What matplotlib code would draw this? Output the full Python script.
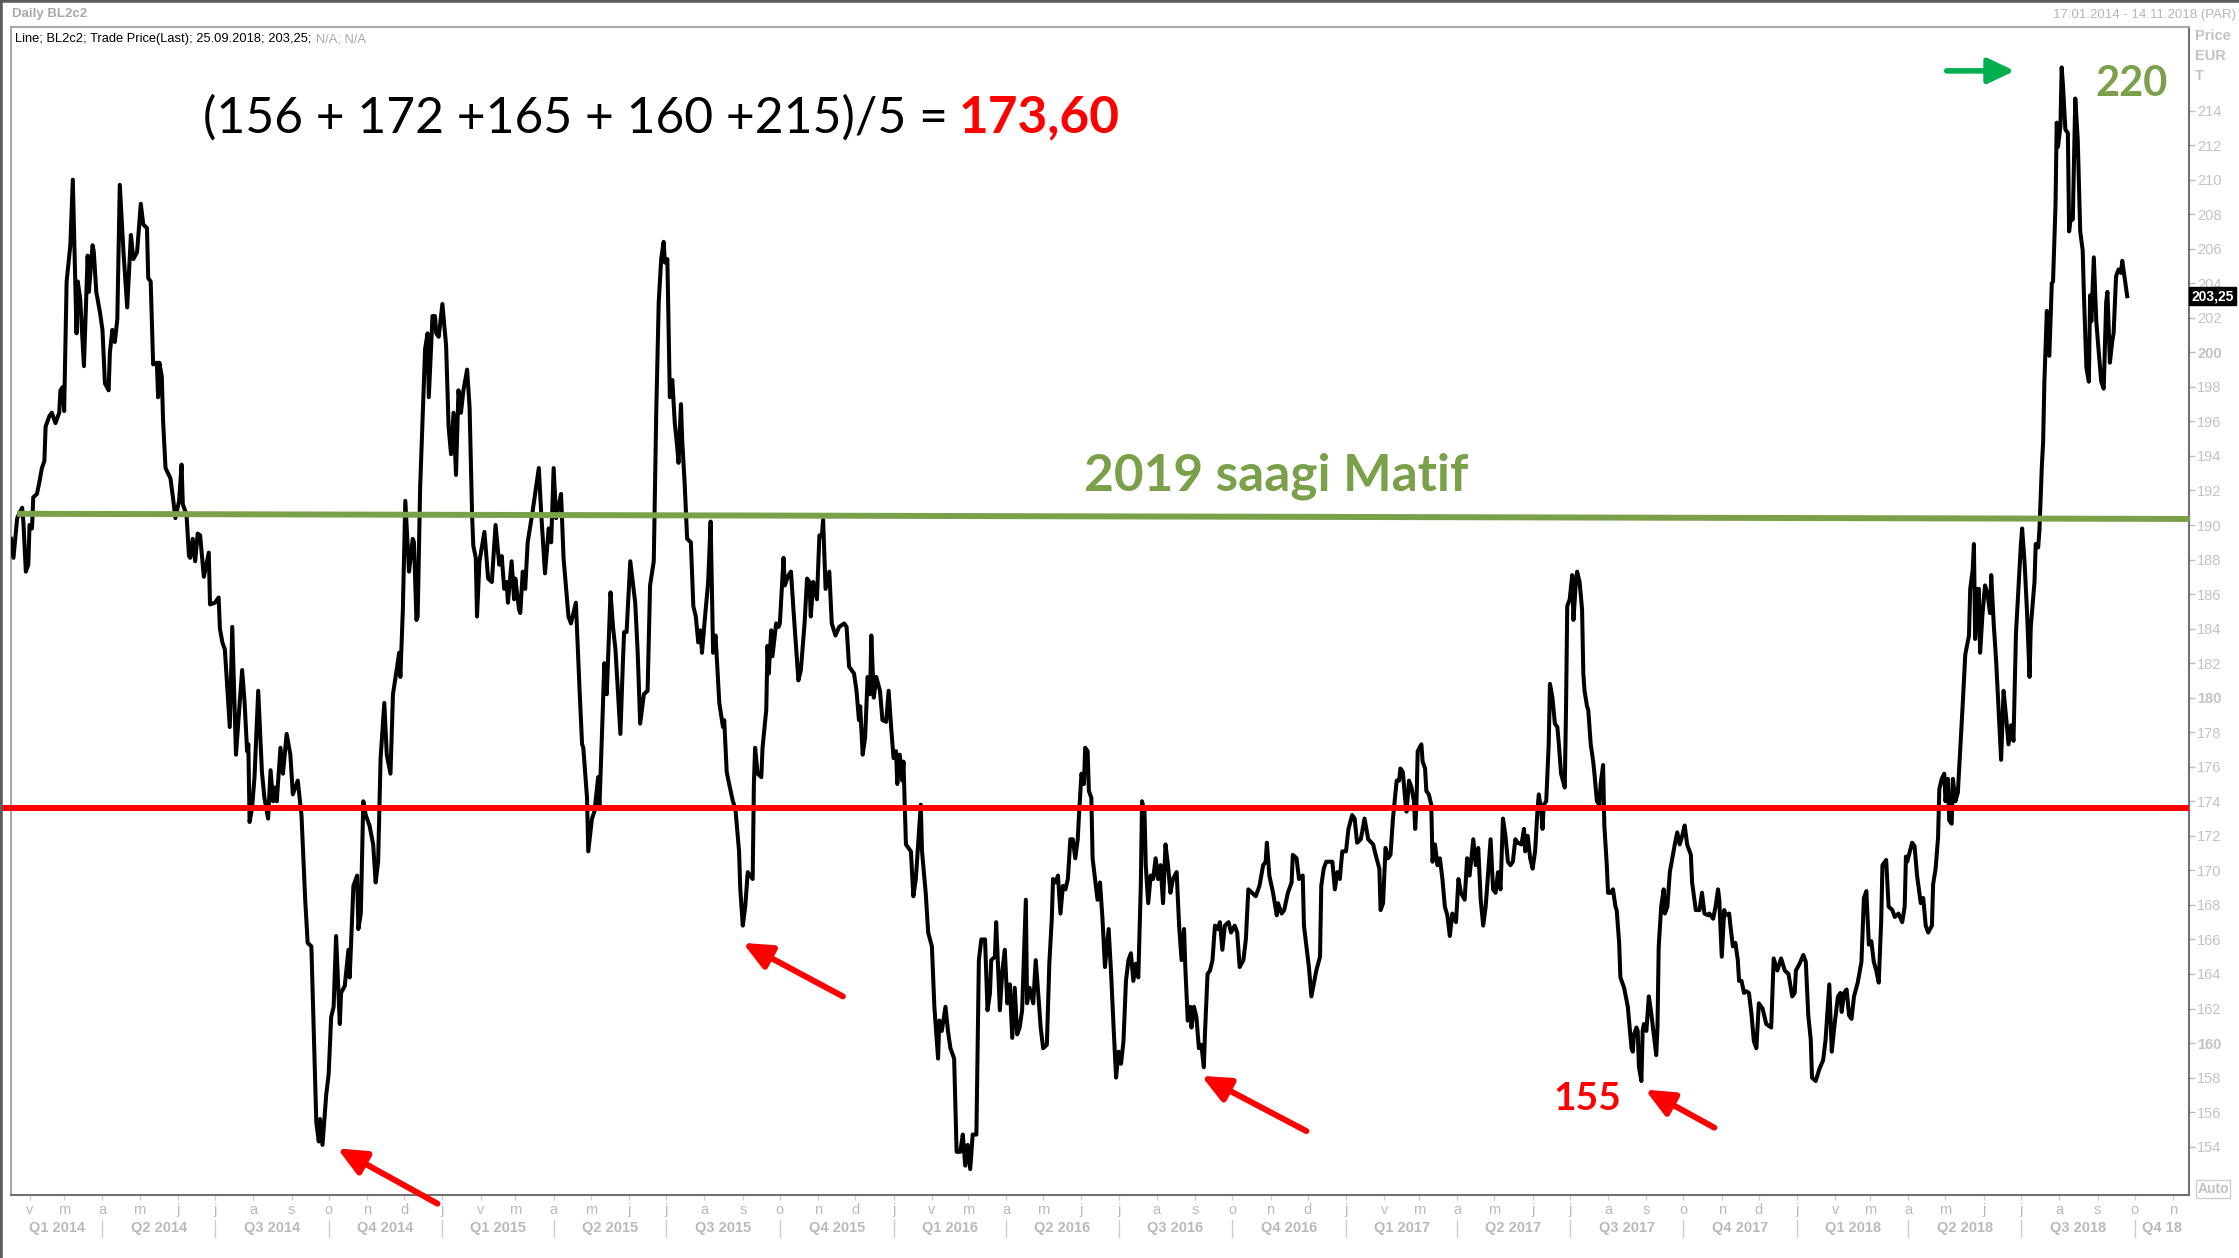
import numpy as np
import pandas as pd
import matplotlib
matplotlib.use("Agg")
import matplotlib.pyplot as plt
import matplotlib.dates as mdates
import matplotlib.transforms as mtransforms
from matplotlib.lines import Line2D
from matplotlib.offsetbox import TextArea, HPacker, AnnotationBbox

plt.rcParams['font.family'] = ['Liberation Sans', 'DejaVu Sans']

start = np.datetime64('2014-01-17')
end = np.datetime64('2018-11-14')

# days after 17.01.2014 and the traded price (EUR/t)
day = [0, 2, 5, 9, 10, 12, 14, 15, 17, 18,
       21, 23, 25, 27, 28, 31, 33, 36, 39, 40,
       42, 43, 45, 48, 50, 53, 54, 56, 59, 62,
       63, 66, 67, 69, 72, 74, 76, 79, 80, 82,
       84, 86, 88, 91, 94, 97, 99, 102, 105, 107,
       110, 111, 113, 115, 118, 119, 120, 122, 123, 125,
       129, 131, 133, 136, 138, 139, 142, 144, 145, 147,
       149, 151, 153, 156, 160, 161, 165, 168, 169, 171,
       173, 177, 179, 182, 185, 187, 189, 191, 192, 193,
       195, 197, 200, 203, 205, 208, 210, 212, 214, 215,
       218, 220, 223, 226, 228, 232, 235, 238, 240, 243,
       247, 249, 250, 252, 255, 257, 259, 261, 263, 266,
       267, 270, 273, 274, 277, 280, 281, 283, 285, 287,
       290, 293, 295, 297, 299, 302, 304, 307, 309, 312,
       314, 315, 317, 319, 322, 325, 326, 328, 329, 331,
       335, 337, 338, 341, 343, 344, 346,
       349, 352, 354, 356, 358, 360, 362, 364, 366, 369,
       371, 373, 374, 376, 377, 379, 383, 386, 389, 392,
       395, 397, 399, 401, 402, 405, 407, 408, 411, 412,
       414, 416, 418, 422, 427, 429, 432, 435, 437, 439,
       441, 445, 447, 451, 453, 457, 460, 462, 463, 466,
       467, 470, 472, 475, 476, 478, 480, 482, 485, 487,
       489, 491, 493, 495, 496, 498, 501, 505, 507, 509,
       512, 515, 517, 520, 522, 524, 526, 528, 529, 531,
       533, 535, 537, 539, 540, 542, 543, 545, 547, 550,
       552, 554, 556, 558, 559, 561, 564, 566, 568, 570,
       573, 576, 577, 579, 581, 584, 586, 589, 590, 592,
       594, 596, 598, 600, 601, 602, 604, 607, 608, 611,
       612, 613, 615, 616, 619, 621, 622, 625, 626, 629,
       631, 633, 637, 639, 642, 644, 646, 647, 649, 652,
       654, 656, 657, 659, 662, 664, 667, 670, 674, 676,
       678, 682, 684, 686, 687, 689, 691, 693, 695, 696,
       698, 700,
       703, 705, 708, 710, 712, 714, 716, 717, 719, 721,
       722, 724, 728, 730, 732, 736, 737, 740, 742, 745,
       747, 750, 751, 753, 756, 758, 760, 763, 765, 768,
       770, 772, 774, 776, 778, 781, 783, 785, 788, 790,
       792, 793, 796, 797, 800, 802, 804, 806, 808, 810,
       812, 814, 816, 818, 821, 822, 824, 827, 829, 831,
       833, 835, 838, 840, 842, 843, 845, 847, 849, 851,
       853, 855, 857, 859, 861, 863, 864, 866, 868, 869,
       871, 872, 874, 875, 877, 879, 881, 883, 885, 888,
       890, 892, 894, 896, 898, 900, 902, 904, 906, 908,
       910, 912, 914, 915, 917, 918, 920, 922, 924, 926,
       928, 930, 932, 934, 936, 938, 940, 943, 945, 947,
       949, 950, 952, 954, 955, 957, 959, 961, 963, 965,
       966, 968, 970, 972, 974, 976, 978, 980, 982, 985,
       987, 990, 992, 994, 997, 999, 1001, 1004, 1007, 1010,
       1013, 1015, 1016, 1018, 1021, 1024, 1025, 1028, 1030, 1033,
       1036, 1037, 1040, 1042, 1045, 1046, 1048, 1050, 1052, 1055,
       1056,
       1059, 1060, 1062, 1064, 1069, 1071, 1073, 1075, 1077, 1080,
       1082, 1085, 1087, 1089, 1092, 1095, 1098, 1102, 1104, 1107,
       1108, 1110, 1112, 1114, 1116, 1118, 1121, 1123, 1124, 1126,
       1128, 1129, 1131, 1133, 1135, 1136, 1137, 1138, 1141, 1142,
       1144, 1145, 1147, 1149, 1150, 1152, 1154, 1156, 1158, 1160,
       1162, 1164, 1166, 1169, 1171, 1173, 1176, 1178, 1180, 1183,
       1185, 1187, 1189, 1191, 1193, 1197, 1199, 1201, 1203, 1205,
       1207, 1209, 1211, 1213, 1215, 1217, 1219, 1222, 1224, 1225,
       1227, 1229, 1231, 1233, 1235, 1236, 1238, 1239, 1240, 1242,
       1244, 1245, 1247, 1249, 1251, 1252, 1254, 1257, 1258, 1259,
       1261, 1263, 1264, 1266, 1267, 1269, 1271, 1272, 1273, 1275,
       1276, 1278, 1280, 1281, 1283, 1285, 1286, 1288, 1289, 1291,
       1292, 1294, 1296, 1298, 1299, 1301, 1302, 1305, 1308, 1309,
       1311, 1312, 1313, 1315, 1316, 1317, 1319, 1320, 1321, 1323,
       1324, 1325, 1327, 1329, 1331, 1332, 1333, 1335, 1337, 1338,
       1340, 1342, 1344, 1346, 1348, 1350, 1352, 1354, 1356, 1359,
       1360, 1363, 1366, 1368, 1370, 1373, 1374, 1377, 1379, 1381,
       1382, 1384, 1386, 1387, 1390, 1391, 1393, 1395, 1397, 1398,
       1400, 1402, 1404, 1406, 1408, 1410, 1412, 1414,
       1417, 1420, 1424, 1426, 1429, 1432, 1435, 1438, 1441, 1443,
       1444, 1447, 1450, 1452, 1454, 1456, 1457, 1460, 1463, 1466,
       1468, 1471, 1473, 1475, 1478, 1480, 1481, 1483, 1485, 1487,
       1489, 1491, 1494, 1497, 1499, 1501, 1503, 1505, 1507, 1509,
       1511, 1513, 1514, 1517, 1519, 1522, 1524, 1527, 1530, 1532,
       1533, 1534, 1538, 1540, 1542, 1545, 1547, 1549, 1551, 1554,
       1555, 1557, 1559, 1560, 1562, 1564, 1565, 1567, 1568, 1570,
       1571, 1573, 1575, 1577, 1579, 1581, 1584, 1585, 1587, 1588,
       1589, 1591, 1592, 1593, 1595, 1597, 1599, 1601, 1602, 1604,
       1606, 1608, 1610, 1612, 1614, 1616, 1618, 1620, 1622, 1624,
       1626, 1627, 1629, 1631, 1633, 1634, 1637, 1638, 1640, 1641,
       1643, 1644, 1645, 1647, 1648, 1649, 1651, 1652, 1654, 1655,
       1656, 1658, 1659, 1660, 1662, 1664, 1665, 1666, 1668, 1670,
       1672, 1674, 1676, 1677, 1679, 1681, 1682, 1683, 1685, 1687,
       1689, 1691, 1693, 1695, 1696, 1698, 1700, 1701, 1703, 1705,
       1707, 1708, 1712]

price = [189.2, 188.1, 190.4, 191.0, 190.2, 187.3, 187.7, 190.0, 189.8, 191.6,
         191.8, 192.5, 193.3, 193.7, 195.7, 196.3, 196.5, 195.9, 196.5, 197.8,
         198.0, 196.6, 204.1, 206.2, 210.0, 201.1, 204.1, 203.1, 199.2, 205.6,
         203.5, 206.2, 205.8, 203.5, 202.3, 201.3, 198.2, 197.8, 200.0, 201.3,
         200.6, 201.9, 209.7, 205.8, 202.6, 206.8, 205.4, 205.8, 208.6, 207.4,
         207.2, 204.3, 204.1, 199.3, 199.4, 197.4, 199.4, 198.6, 196.1, 193.3,
         192.7, 191.6, 190.4, 191.4, 193.5, 191.2, 190.6, 188.2, 188.1, 189.2,
         187.9, 189.5, 189.4, 187.0, 188.4, 185.4, 185.5, 185.8, 184.0, 183.2,
         182.8, 178.3, 184.1, 176.7, 179.7, 181.6, 179.7, 176.9, 177.3, 172.8,
         173.6, 175.4, 180.4, 175.7, 174.2, 173.0, 175.8, 174.0, 174.8, 174.0,
         177.1, 175.6, 177.9, 176.7, 174.4, 175.2, 173.2, 168.3, 165.8, 165.6,
         155.4, 154.3, 155.6, 154.1, 157.0, 158.2, 161.5, 162.1, 166.2, 161.1,
         162.9, 163.3, 165.4, 163.8, 169.1, 169.7, 166.6, 167.5, 174.0, 173.2,
         172.6, 171.5, 169.3, 170.5, 176.5, 179.7, 176.7, 175.6, 180.2, 181.6,
         182.6, 181.2, 185.1, 191.4, 187.3, 189.2, 189.0, 184.5, 184.7, 192.2,
         200.2, 201.1, 197.4, 202.1, 202.1, 201.1, 200.9,
         202.8, 200.4, 195.7, 194.1, 196.5, 192.9, 197.8, 196.5, 197.8, 199.0,
         196.8, 190.6, 188.8, 188.1, 184.7, 187.9, 189.6, 186.9, 186.7, 190.0,
         187.7, 188.2, 186.3, 186.7, 185.5, 187.9, 185.7, 186.9, 185.1, 184.9,
         187.3, 186.3, 189.0, 190.8, 193.3, 190.6, 187.2, 189.8, 189.0, 193.3,
         190.4, 191.8, 188.1, 184.7, 184.3, 185.5, 180.4, 177.3, 177.1, 174.2,
         171.1, 173.0, 173.4, 175.4, 173.6, 177.7, 182.0, 180.2, 186.1, 184.1,
         182.8, 180.4, 177.9, 182.0, 183.8, 183.8, 187.9, 185.5, 182.6, 178.5,
         180.2, 180.4, 186.5, 187.9, 196.5, 202.9, 205.4, 206.4, 205.2, 205.4,
         197.4, 198.4, 195.9, 194.5, 193.6, 197.0, 194.9, 192.4, 189.2, 189.0,
         185.3, 184.7, 183.2, 183.9, 182.6, 184.3, 186.7, 190.2, 182.6, 183.6,
         179.7, 178.3, 178.7, 175.7, 175.0, 174.0, 173.6, 171.1, 168.9, 166.8,
         167.9, 169.9, 169.7, 169.5, 175.0, 177.1, 175.6, 175.4, 177.1, 179.3,
         183.0, 181.4, 183.9, 182.4, 184.3, 184.1, 184.3, 188.1, 186.5, 187.1,
         187.3, 185.1, 181.0, 181.6, 184.3, 186.9, 186.7, 184.7, 186.7, 185.7,
         189.4, 189.4, 190.3, 186.3, 187.3, 184.3, 183.6, 184.1, 184.3, 184.1,
         181.8, 181.4, 180.4, 178.7, 179.5, 176.7, 177.7, 181.2, 180.2, 183.6,
         180.0, 181.2,
         180.4, 178.7, 178.6, 180.4, 178.3, 176.5, 176.9, 175.0, 176.7, 175.2,
         176.3, 171.5, 171.1, 168.5, 169.5, 173.8, 171.1, 168.7, 166.4, 165.6,
         162.1, 159.1, 161.3, 160.7, 162.1, 160.7, 159.7, 159.1, 153.7, 153.7,
         154.7, 152.9, 154.1, 152.7, 154.7, 154.7, 164.8, 166.0, 166.0, 161.9,
         162.9, 164.8, 165.0, 167.0, 161.9, 164.2, 165.4, 162.3, 163.4, 160.3,
         163.2, 160.5, 160.9, 161.9, 168.3, 162.3, 163.2, 162.3, 164.8, 162.9,
         160.9, 159.7, 159.9, 164.6, 167.2, 169.5, 169.3, 169.7, 167.5, 169.1,
         168.9, 169.5, 171.8, 171.8, 170.7, 171.8, 173.2, 175.6, 175.0, 177.1,
         176.9, 174.6, 174.2, 170.7, 169.5, 168.3, 169.3, 167.2, 164.4, 166.6,
         164.0, 160.9, 158.0, 159.5, 158.8, 160.1, 163.6, 164.8, 165.2, 163.6,
         164.6, 163.8, 169.1, 174.0, 173.4, 170.3, 168.1, 169.7, 169.5, 170.7,
         169.5, 170.3, 168.1, 171.5, 170.3, 168.7, 169.5, 169.9, 166.8, 164.8,
         166.6, 164.4, 161.3, 162.1, 160.9, 162.1, 161.5, 159.7, 159.9, 158.6,
         160.7, 164.0, 164.2, 164.8, 166.8, 166.6, 167.0, 165.4, 166.8, 167.0,
         166.4, 166.8, 166.4, 164.4, 164.8, 166.0, 168.9, 168.7, 168.5, 169.1,
         170.3, 170.5, 171.6, 169.7, 168.7, 167.4, 168.1, 167.5, 167.7, 168.7,
         169.3, 170.9, 170.7, 169.5, 169.7, 166.8, 165.6, 164.4, 162.7, 163.8,
         164.2,
         165.0, 169.1, 170.1, 170.5, 170.5, 168.9, 169.9, 169.5, 171.1, 171.1,
         172.4, 173.2, 173.0, 171.6, 171.8, 173.0, 171.8, 171.5, 170.9, 170.1,
         167.7, 168.1, 171.3, 170.7, 170.9, 173.0, 175.2, 175.2, 175.9, 175.7,
         174.0, 173.4, 175.2, 174.8, 174.0, 172.4, 173.8, 176.9, 177.3, 176.3,
         175.9, 174.6, 174.4, 173.8, 170.5, 171.5, 170.3, 170.7, 169.5, 167.9,
         167.4, 166.2, 167.5, 167.0, 169.5, 168.7, 168.3, 170.7, 169.7, 171.8,
         170.3, 171.3, 168.3, 166.8, 167.9, 171.8, 168.9, 168.7, 169.9, 168.9,
         173.0, 172.0, 170.5, 170.3, 170.5, 171.8, 171.6, 171.5, 172.4, 171.1,
         172.0, 170.7, 170.1, 171.1, 173.6, 174.4, 173.4, 172.4, 173.8, 174.0,
         177.3, 180.8, 180.0, 178.5, 178.3, 177.5, 175.6, 174.8, 179.3, 185.3,
         185.7, 187.1, 184.5, 186.7, 187.3, 186.7, 185.1, 181.4, 180.4, 179.5,
         179.3, 177.3, 176.3, 175.6, 174.0, 173.8, 175.0, 176.1, 172.6, 170.3,
         168.7, 168.7, 168.9, 167.9, 167.7, 165.8, 163.8, 163.2, 162.1, 161.3,
         159.7, 159.5, 160.5, 160.9, 160.7, 158.6, 157.8, 160.7, 161.1, 160.7,
         161.7, 162.7, 161.7, 160.5, 159.3, 160.9, 165.6, 167.9, 168.9, 167.5,
         167.9, 169.9, 170.7, 171.5, 172.2, 171.5, 172.0, 172.6, 171.5, 170.9,
         169.3, 167.7, 167.7, 168.7, 167.5, 167.4, 167.5, 167.2, 167.9, 168.9,
         168.3, 165.0, 167.7, 167.4, 167.5, 166.8, 165.6, 165.8, 164.8, 163.6,
         163.6, 162.9, 163.0, 162.9, 161.7, 160.1, 159.7, 162.3,
         162.0, 161.1, 160.9, 164.9, 164.2, 164.9, 164.2, 164.0, 162.7, 162.9,
         164.2, 164.6, 165.1, 164.7, 161.6, 160.2, 158.0, 157.8, 158.5, 159.0,
         160.2, 163.4, 159.5, 160.9, 162.7, 162.9, 161.8, 162.9, 163.1, 161.6,
         161.4, 162.7, 163.5, 164.7, 168.4, 168.8, 165.7, 165.9, 164.7, 164.2,
         163.5, 167.1, 170.3, 170.6, 167.9, 167.7, 167.3, 167.5, 167.0, 167.9,
         170.8, 170.5, 171.6, 171.4, 169.7, 168.1, 168.4, 166.8, 166.4, 166.8,
         169.2, 170.1, 171.9, 174.7, 175.3, 175.6, 174.0, 175.3, 172.9, 172.7,
         175.3, 174.0, 174.5, 177.1, 179.7, 182.5, 183.6, 186.3, 187.4, 188.9,
         183.4, 186.3, 186.3, 182.6, 184.9, 186.5, 186.0, 184.9, 187.1, 184.3,
         182.1, 179.3, 176.4, 180.4, 178.9, 177.3, 178.4, 177.5, 183.7, 186.3,
         188.9, 189.8, 187.8, 184.9, 181.2, 184.1, 186.7, 188.9, 188.7, 189.7,
         193.5, 194.8, 198.3, 202.4, 200.0, 199.8, 204.0, 204.1, 208.5, 213.3,
         211.9, 213.1, 216.5, 215.5, 212.9, 212.7, 207.0, 207.6, 207.7, 214.7,
         212.3, 207.0, 205.9, 203.3, 199.1, 198.3, 203.3, 201.8, 205.5, 201.8,
         200.0, 198.3, 197.9, 202.9, 203.5, 199.4, 200.7, 201.1, 204.4, 204.8,
         204.6, 205.3, 203.25]

avg_level = 173.6                 # (156 + 172 + 165 + 160 + 215) / 5
matif_2019 = [190.65, 190.35]     # 2019 harvest Matif, left and right end
last_price = 203.25

# red arrows at the lows: tip (day, price) and tail (day, price)
low_tips = [(264, 153.9), (592, 165.8), (963, 158.1), (1322, 157.3)]
low_tails = [(345, 150.7), (673, 162.7), (1048, 154.9), (1378, 155.1)]
top_tip, top_tail = (1621, 216.3), (1566, 216.3)

month_letters = ['j', 'v', 'm', 'a', 'm', 'j', 'j', 'a', 's', 'o', 'n', 'd']

W, H = 2239, 1258
GREEN = '#7aa04a'
GREY = '#b9b9b9'


def dnum(d):
    return mdates.date2num(start + np.timedelta64(int(d), 'D'))


fig = plt.figure(figsize=(W / 100, H / 100), dpi=100)
ax = fig.add_axes([11 / W, 1 - 1195 / H, 2178 / W, 1168 / H])

x = start + np.array(day, dtype='timedelta64[D]')
ax.plot(x, price, color='black', lw=2.9, zorder=3)

ax.plot([dnum(-9), dnum(1762)], [avg_level, avg_level], color='#ff0000',
        lw=4.3, zorder=4, clip_on=False, solid_capstyle='butt')
ax.plot([dnum(5), dnum(1763)], matif_2019, color=GREEN, lw=4.3, zorder=4,
        clip_on=False, solid_capstyle='butt')

ax.set_xlim(dnum(0), dnum(1762))
ax.set_ylim(151.2, 218.84)

# month ticks along the bottom
months = pd.date_range('2014-02-01', '2018-11-01', freq='MS')
ax.set_xticks(mdates.date2num(months.to_pydatetime()))
ax.set_xticklabels([month_letters[m.month - 1] for m in months])
ax.tick_params(axis='x', direction='out', length=3.5, width=1, color='#cfcfcf',
               labelcolor=GREY, labelsize=10.5, pad=2)

# quarter labels and separators under the month letters
trans = mtransforms.blended_transform_factory(ax.transData, ax.transAxes)
qstarts = pd.date_range('2014-04-01', '2018-10-01', freq='QS')
bounds = [pd.Timestamp(start)] + list(qstarts) + [pd.Timestamp(end)]
for i in range(len(bounds) - 1):
    a, b = bounds[i], bounds[i + 1]
    mid = mdates.date2num((a + (b - a) / 2).to_pydatetime())
    q = (a.month - 1) // 3 + 1
    lab = f"Q{q} {a.year}" if i < len(bounds) - 2 else f"Q{q} {a.year % 100}"
    ax.text(mid, -0.0283, lab, transform=trans, ha='center', va='center',
            fontsize=10.5, weight='bold', color=GREY)
for qs in qstarts:
    xq = mdates.date2num(qs.to_pydatetime())
    ax.plot([xq, xq], [-0.021, -0.036], transform=trans, color='#cccccc',
            lw=1, clip_on=False)

# price axis on the right
yt = np.arange(154, 215, 2)
ax.yaxis.tick_right()
ax.set_yticks(yt)
ax.set_yticklabels([str(v) for v in yt])
for v, lab in zip(yt, ax.get_yticklabels()):
    if v % 20 == 0:
        lab.set_fontweight('bold')
ax.tick_params(axis='y', direction='out', length=4, width=1, color='#bdbdbd',
               labelcolor='#c2c2c2', labelsize=10.5, pad=2)

for side in ['left', 'top']:
    ax.spines[side].set_color('#a8a8a8')
for side in ['right', 'bottom']:
    ax.spines[side].set_color('#707070')
for s in ax.spines.values():
    s.set_linewidth(1.5)

# last price marker
ax.text(1.001, last_price, '203,25', transform=mtransforms.blended_transform_factory(ax.transAxes, ax.transData),
        ha='left', va='center', fontsize=10, weight='bold', color='white', zorder=10, clip_on=False,
        bbox=dict(boxstyle='square,pad=0.15', fc='black', ec='black'))

for i, word in enumerate(['Price', 'EUR', 'T']):
    fig.text(2195 / W, 1 - (36 + 20 * i) / H, word, ha='left', va='center', fontsize=10.5,
             weight='bold', color='#c2c2c2')
fig.text(2213 / W, 1 - 1189 / H, 'Auto', ha='center', va='center', fontsize=10,
         weight='bold', color='#c2c2c2',
         bbox=dict(boxstyle='square,pad=0.12', fc='white', ec='#cfcfcf'))

# header
fig.text(12 / W, 1 - 14 / H, 'Daily BL2c2', ha='left', va='center', fontsize=9.5,
         weight='bold', color='#a9a9a9')
fig.text(2236 / W, 1 - 15 / H, '17.01.2014 - 14.11.2018 (PAR)', ha='right', va='center',
         fontsize=9.5, color='#b5b5b5')
fig.add_artist(Line2D([0, 1], [1, 1], transform=fig.transFigure, color='#5c5c5c', lw=4))
fig.add_artist(Line2D([0, 0], [0, 1], transform=fig.transFigure, color='#5c5c5c', lw=4))

legend = HPacker(children=[
    TextArea('Line; BL2c2; Trade Price(Last); 25.09.2018; 203,25;',
             textprops=dict(fontsize=9.3, color='black')),
    TextArea('N/A; N/A', textprops=dict(fontsize=9.3, color='#a8a8a8'))],
    align='baseline', pad=0, sep=3)
ax.add_artist(AnnotationBbox(legend, (15 / W, 1 - 39 / H), xycoords='figure fraction',
                             box_alignment=(0, 0.5), frameon=False, pad=0,
                             annotation_clip=False))

# annotations
formula = HPacker(children=[
    TextArea('(156 + 172 +165 + 160 +215)/5 =',
             textprops=dict(fontsize=35.8, family='Lato', color='black')),
    TextArea('173,60', textprops=dict(fontsize=37, family='Lato', weight='bold',
                                      color='#ff0000'))],
    align='baseline', pad=0, sep=8)
ax.add_artist(AnnotationBbox(formula, (203 / W, 1 - 118 / H), xycoords='figure fraction',
                             box_alignment=(0, 0.5), frameon=False, pad=0,
                             annotation_clip=False))

ax.text(dnum(868), 192.0, '2019 saagi Matif', ha='left', va='baseline', fontsize=37,
        family='Lato', weight='bold', color=GREEN, zorder=6)
ax.text(dnum(1686), 214.84, '220', ha='left', va='baseline', fontsize=30,
        family='Lato', weight='bold', color=GREEN, zorder=6)
ax.text(dnum(1248), 156.1, '155', ha='left', va='baseline', fontsize=28,
        family='Lato', weight='bold', color='#ff0000', zorder=6)

for (td, tv), (sd, sv) in zip(low_tips, low_tails):
    ax.annotate('', xy=(dnum(td), tv), xytext=(dnum(sd), sv), annotation_clip=False,
                arrowprops=dict(arrowstyle='-|>,head_length=0.85,head_width=0.38',
                                mutation_scale=20, color='#ff0000', lw=4.3,
                                shrinkA=0, shrinkB=0), zorder=7)
ax.annotate('', xy=(dnum(top_tip[0]), top_tip[1]), xytext=(dnum(top_tail[0]), top_tail[1]),
            annotation_clip=False,
            arrowprops=dict(arrowstyle='-|>,head_length=0.8,head_width=0.38',
                            mutation_scale=20, color='#00b050', lw=4.0,
                            shrinkA=0, shrinkB=0), zorder=7)

fig.savefig('out.png', dpi=100)
